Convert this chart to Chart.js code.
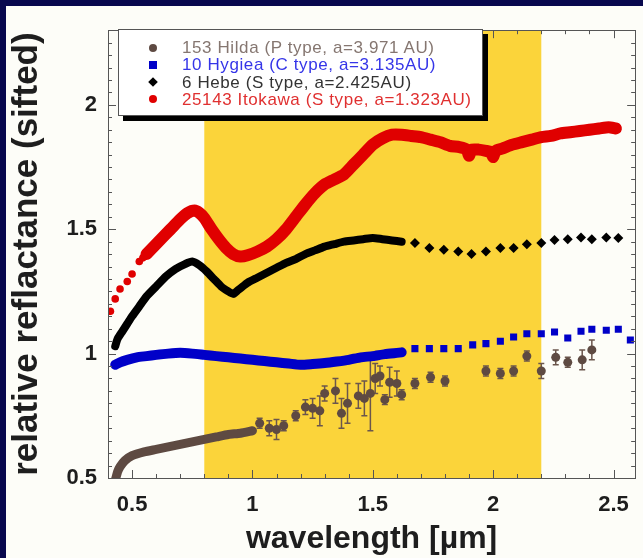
<!DOCTYPE html>
<html>
<head>
<meta charset="utf-8">
<script src="https://cdn.jsdelivr.net/npm/chart.js@4.4.1/dist/chart.umd.min.js"></script>
<style>
  html, body { margin: 0; padding: 0; }
  body { width: 643px; height: 558px; background: #08084e; overflow: hidden; position: relative; }
  #wrap { position: absolute; left: 6px; top: 6px; width: 637px; height: 552px; background: #fdfdf8; }
  #wrap canvas { position: absolute; left: 0; top: 0; }
  #legend {
    position: absolute; left: 112px; top: 23px; width: 365px; height: 87px;
    box-sizing: border-box; padding-top: 9px;
    background: #fff; border: 1px solid #555; box-shadow: 5px 5px 0 #000;
    font: 17px "Liberation Sans", Arial, sans-serif; letter-spacing: 0.6px;
  }
  .row { position: relative; height: 17.3px; line-height: 17.3px; padding-left: 63px; white-space: nowrap; }
  .mk { position: absolute; left: 30px; top: 4.6px; width: 8px; height: 8px; }
</style>
</head>
<body>
<div id="wrap">
  <canvas id="myChart" width="637" height="552"></canvas>
  <div id="legend">
    <div class="row" style="color:#857670"><span class="mk" style="background:#5e4a42;border-radius:50%"></span>153 Hilda (P type, a=3.971 AU)</div>
    <div class="row" style="color:#3535e8"><span class="mk" style="background:#0000c8"></span>10 Hygiea (C type, a=3.135AU)</div>
    <div class="row" style="color:#333"><span class="mk" style="background:#000;transform:rotate(45deg) scale(0.85)"></span>6 Hebe (S type, a=2.425AU)</div>
    <div class="row" style="color:#e03030"><span class="mk" style="background:#e00000;border-radius:50%"></span>25143 Itokawa (S type, a=1.323AU)</div>
  </div>
</div>
<script>
// wavelength [um], relative reflectance
const xTicks = [0.5, 1, 1.5, 2, 2.5];
const xTickLabels = ['0.5', '1', '1.5', '2', '2.5'];
const yTicks = [0.5, 1, 1.5, 2];
const yTickLabels = ['0.5', '1', '1.5', '2'];

// shaded wavelength range
const bandStart = 0.8;
const bandEnd = 2.2;

// 153 Hilda
const hildaLine = [[0.43,0.49],[0.44,0.525],[0.45,0.545],[0.47,0.57],[0.50,0.59],[0.55,0.605],[0.60,0.615],
  [0.65,0.625],[0.70,0.635],[0.75,0.645],[0.80,0.655],[0.85,0.665],[0.90,0.675],[0.95,0.68],[1.00,0.69]];
const hildaX = [1.03,1.07,1.10,1.13,1.18,1.22,1.25,1.28,1.30,1.345,1.37,1.395,1.44,1.465,1.49,1.51,1.53,1.55,1.57,1.60,1.62,
  1.675,1.74,1.80,1.97,2.03,2.085,2.14,2.20,2.26,2.31,2.37,2.41];
const hildaY = [0.72,0.70,0.695,0.71,0.75,0.785,0.78,0.77,0.84,0.85,0.76,0.80,0.83,0.82,0.84,0.90,0.91,0.815,0.885,0.88,0.835,
  0.88,0.905,0.89,0.93,0.92,0.93,0.99,0.93,0.985,0.965,0.975,1.015];
const hildaErr = [0.02,0.03,0.04,0.02,0.02,0.03,0.04,0.06,0.03,0.05,0.06,0.08,0.05,0.07,0.15,0.06,0.04,0.02,0.06,0.05,0.02,
  0.02,0.02,0.02,0.02,0.02,0.02,0.02,0.03,0.03,0.02,0.04,0.04];

// 10 Hygiea
const hygieaLine = [[0.43,0.955],[0.45,0.965],[0.48,0.975],[0.52,0.985],[0.56,0.99],[0.60,0.995],[0.65,1.0],[0.70,1.003],
  [0.75,1.0],[0.80,0.995],[0.85,0.99],[0.90,0.985],[0.95,0.98],[1.00,0.975],[1.05,0.97],[1.10,0.965],[1.15,0.96],
  [1.20,0.955],[1.25,0.958],[1.30,0.962],[1.35,0.968],[1.40,0.975],[1.45,0.985],[1.50,0.99],[1.55,0.998],[1.60,1.003],[1.62,1.005]];
const hygieaX = [1.675,1.735,1.795,1.855,1.915,1.97,2.03,2.085,2.14,2.20,2.255,2.31,2.365,2.41,2.47,2.52,2.57];
const hygieaY = [1.02,1.02,1.02,1.02,1.035,1.04,1.05,1.067,1.08,1.08,1.087,1.063,1.09,1.098,1.094,1.098,1.055];

// 6 Hebe
const hebeLine = [[0.43,1.03],[0.44,1.06],[0.46,1.09],[0.48,1.12],[0.50,1.15],[0.53,1.19],[0.56,1.23],[0.60,1.27],
  [0.64,1.31],[0.68,1.34],[0.72,1.36],[0.75,1.37],[0.78,1.355],[0.81,1.33],[0.84,1.30],[0.87,1.27],[0.90,1.25],
  [0.92,1.24],[0.94,1.255],[0.96,1.27],[0.98,1.285],[1.02,1.305],[1.06,1.325],[1.10,1.345],[1.14,1.365],[1.18,1.38],
  [1.22,1.40],[1.26,1.415],[1.30,1.43],[1.34,1.44],[1.38,1.45],[1.42,1.455],[1.46,1.46],[1.50,1.465],[1.54,1.46],
  [1.58,1.455],[1.62,1.45]];
const hebeX = [1.675,1.735,1.795,1.855,1.91,1.97,2.03,2.085,2.14,2.20,2.255,2.31,2.365,2.41,2.47,2.52];
const hebeY = [1.445,1.425,1.417,1.41,1.40,1.41,1.425,1.425,1.44,1.445,1.457,1.46,1.467,1.46,1.467,1.465];

// 25143 Itokawa
const itokawaDots = [[0.41,1.17],[0.43,1.22],[0.45,1.26],[0.48,1.29],[0.50,1.32],[0.53,1.37],[0.545,1.385]];
const itokawaLine = [[0.56,1.40],[0.59,1.43],[0.62,1.46],[0.66,1.50],[0.70,1.54],[0.73,1.565],[0.76,1.575],[0.78,1.565],
  [0.80,1.545],[0.83,1.50],[0.86,1.46],[0.89,1.425],[0.92,1.40],[0.95,1.39],[0.98,1.395],[1.02,1.41],[1.06,1.43],
  [1.10,1.46],[1.14,1.50],[1.18,1.55],[1.22,1.60],[1.26,1.645],[1.30,1.68],[1.34,1.70],[1.38,1.72],[1.42,1.76],
  [1.46,1.80],[1.50,1.84],[1.54,1.865],[1.58,1.88],[1.62,1.88],[1.66,1.875],[1.70,1.87],[1.74,1.86],[1.78,1.85],
  [1.82,1.835],[1.86,1.83],[1.89,1.82],[1.90,1.795],[1.91,1.82],[1.94,1.82],[1.97,1.815],[1.99,1.81],[2.00,1.79],
  [2.01,1.815],[2.04,1.825],[2.08,1.84],[2.12,1.85],[2.16,1.86],[2.20,1.87],[2.24,1.875],[2.28,1.885],[2.32,1.89],
  [2.36,1.895],[2.40,1.90],[2.44,1.905],[2.48,1.91],[2.51,1.905]];

const FONT = '"Liberation Sans", Arial, Helvetica, sans-serif';
const pairs = arr => arr.map(p => ({x: p[0], y: p[1]}));
const zip = (xs, ys) => xs.map((x, i) => ({x: x, y: ys[i]}));

// yellow band + brown error bars under the data, box and inner ticks on top
const framePlugin = {
    id: 'frame',
    beforeDatasetsDraw(chart) {
        const {ctx, chartArea: a, scales: {x, y}} = chart;
        ctx.save();
        ctx.fillStyle = '#fbd43a';
        const x0 = x.getPixelForValue(bandStart);
        const x1 = x.getPixelForValue(bandEnd);
        ctx.fillRect(x0, a.top, x1 - x0, a.bottom - a.top);

        ctx.strokeStyle = '#6b564c';
        ctx.lineWidth = 1.5;
        hildaX.forEach((v, i) => {
            const px = x.getPixelForValue(v);
            const lo = y.getPixelForValue(hildaY[i] - hildaErr[i]);
            const hi = y.getPixelForValue(hildaY[i] + hildaErr[i]);
            ctx.beginPath();
            ctx.moveTo(px, lo); ctx.lineTo(px, hi);
            ctx.moveTo(px - 3, lo); ctx.lineTo(px + 3, lo);
            ctx.moveTo(px - 3, hi); ctx.lineTo(px + 3, hi);
            ctx.stroke();
        });
        ctx.restore();
    },
    afterDatasetsDraw(chart) {
        const {ctx, chartArea: a, scales: {x, y}} = chart;
        ctx.save();
        ctx.strokeStyle = '#555';
        ctx.lineWidth = 1;
        ctx.beginPath();
        for (let k = 4; k <= 25; k++) {
            const px = Math.round(x.getPixelForValue(k / 10)) + 0.5;
            const len = k % 5 === 0 ? 8 : 4;
            ctx.moveTo(px, a.bottom); ctx.lineTo(px, a.bottom - len);
            ctx.moveTo(px, a.top); ctx.lineTo(px, a.top + len);
        }
        for (let k = 10; k <= 46; k++) {
            const py = Math.round(y.getPixelForValue(k / 20)) + 0.5;
            const len = k % 10 === 0 ? 8 : 4;
            ctx.moveTo(a.left, py); ctx.lineTo(a.left + len, py);
            ctx.moveTo(a.right, py); ctx.lineTo(a.right - len, py);
        }
        ctx.stroke();
        ctx.strokeRect(Math.round(a.left) + 0.5, Math.round(a.top) + 0.5,
            Math.round(a.right - a.left), Math.round(a.bottom - a.top));
        ctx.restore();
    }
};

const ctx = document.getElementById('myChart');

new Chart(ctx.getContext('2d'), {
    type: 'scatter',
    data: {
        datasets: [
            {
                label: '25143 Itokawa',
                data: pairs(itokawaLine),
                showLine: true,
                borderColor: '#e00000',
                borderWidth: 12,
                borderCapStyle: 'round',
                borderJoinStyle: 'round',
                tension: 0.2,
                pointRadius: 0
            },
            {
                label: '25143 Itokawa dots',
                data: pairs(itokawaDots),
                backgroundColor: '#e00000',
                borderWidth: 0,
                pointRadius: 3.8
            },
            {
                label: '6 Hebe',
                data: pairs(hebeLine),
                showLine: true,
                borderColor: '#000',
                borderWidth: 8,
                borderCapStyle: 'round',
                borderJoinStyle: 'round',
                tension: 0.2,
                pointRadius: 0
            },
            {
                label: '6 Hebe pts',
                data: zip(hebeX, hebeY),
                pointStyle: 'rectRot',
                backgroundColor: '#000',
                borderWidth: 0,
                pointRadius: 5
            },
            {
                label: '10 Hygiea',
                data: pairs(hygieaLine),
                showLine: true,
                borderColor: '#0000c8',
                borderWidth: 10,
                borderCapStyle: 'round',
                borderJoinStyle: 'round',
                tension: 0.2,
                pointRadius: 0
            },
            {
                label: '10 Hygiea pts',
                data: zip(hygieaX, hygieaY),
                pointStyle: 'rect',
                backgroundColor: '#0000c8',
                borderWidth: 0,
                pointRadius: 5
            },
            {
                label: '153 Hilda',
                data: pairs(hildaLine),
                showLine: true,
                borderColor: '#5e4a42',
                borderWidth: 9,
                borderCapStyle: 'round',
                borderJoinStyle: 'round',
                tension: 0.2,
                pointRadius: 0
            },
            {
                label: '153 Hilda pts',
                data: zip(hildaX, hildaY),
                backgroundColor: '#5e4a42',
                borderWidth: 0,
                pointRadius: 4.5
            }
        ]
    },
    options: {
        responsive: false,
        animation: false,
        layout: {
            padding: { top: 16, right: 2, left: 0, bottom: 0 }
        },
        plugins: {
            legend: { display: false },
            tooltip: { enabled: false }
        },
        scales: {
            x: {
                type: 'linear',
                min: 0.4,
                max: 2.59,
                grid: { display: false, drawTicks: false },
                border: { display: false },
                afterBuildTicks: s => { s.ticks = xTicks.map(v => ({value: v})); },
                afterFit: s => { s.height = 80; },
                ticks: {
                    padding: 14,
                    color: '#1e1e1e',
                    font: { family: FONT, size: 22, weight: 'bold' },
                    callback: (v, i) => xTickLabels[i]
                },
                title: {
                    display: true,
                    text: 'wavelength [µm]',
                    color: '#1e1e1e',
                    padding: 0,
                    font: { family: FONT, size: 32, weight: 'bold' }
                }
            },
            y: {
                type: 'linear',
                min: 0.5,
                max: 2.3,
                grid: { display: false, drawTicks: false },
                border: { display: false },
                afterBuildTicks: s => { s.ticks = yTicks.map(v => ({value: v})); },
                afterFit: s => { s.width = 102; },
                ticks: {
                    padding: 11,
                    color: '#1e1e1e',
                    font: { family: FONT, size: 22, weight: 'bold' },
                    callback: (v, i) => yTickLabels[i]
                },
                title: {
                    display: true,
                    text: 'relative reflactance (sifted)',
                    color: '#1e1e1e',
                    padding: 0,
                    font: { family: FONT, size: 35, weight: 'bold' }
                }
            }
        }
    },
    plugins: [framePlugin]
});
</script>
</body>
</html>
